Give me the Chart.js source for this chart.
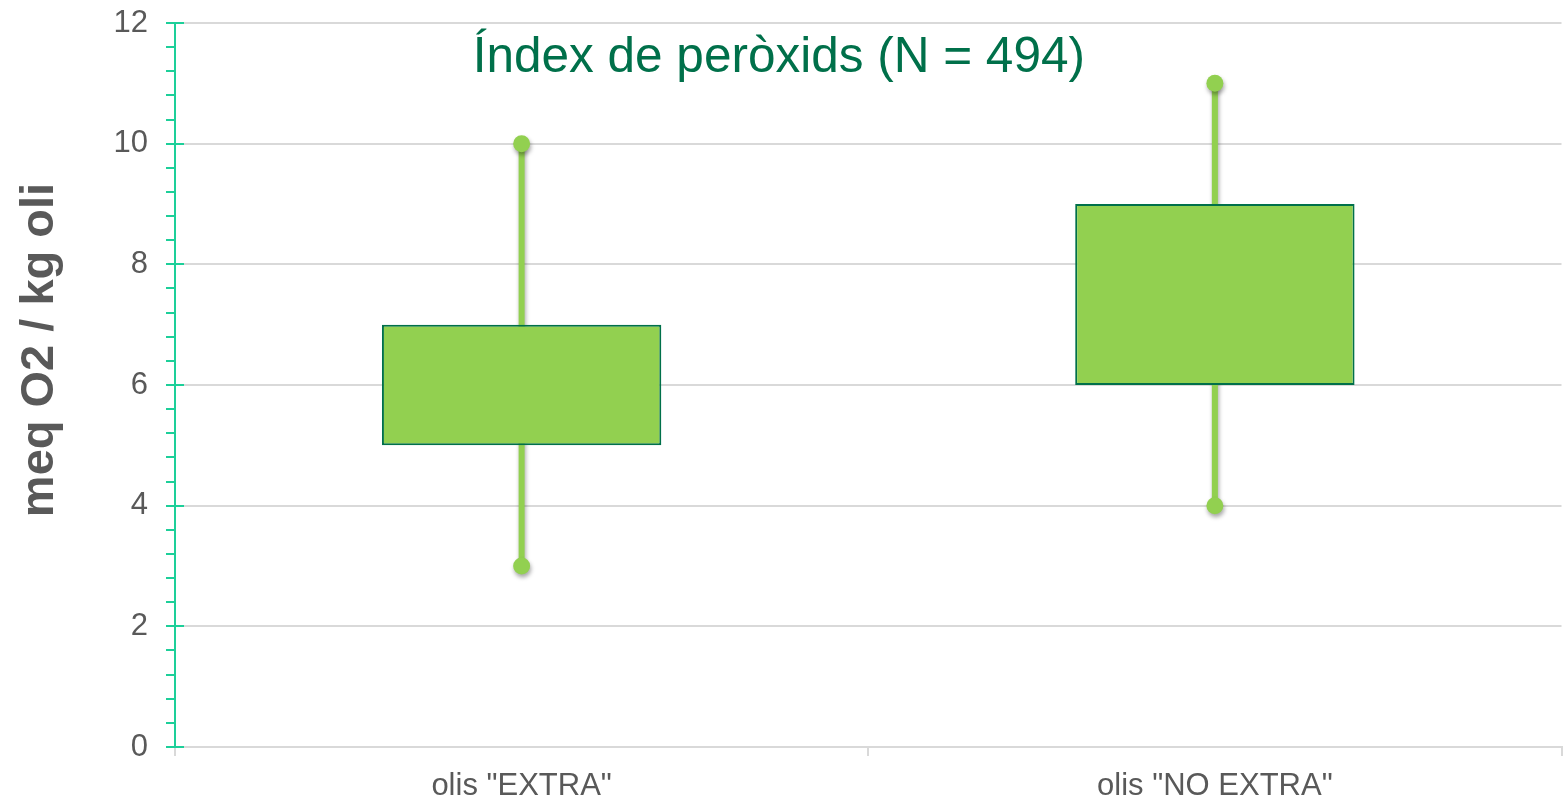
<!DOCTYPE html>
<html>
<head>
<meta charset="utf-8">
<script src="https://cdn.jsdelivr.net/npm/chart.js@4.4.1/dist/chart.umd.min.js"></script>
<style>
  html, body { margin:0; padding:0; background:#fff; overflow:hidden; }
  #wrap { width:1563px; height:799px; overflow:hidden; }
</style>
</head>
<body>
<div id="wrap"><canvas id="c" width="1570" height="799"></canvas></div>
<script>
const CATEGORIES = ['olis "EXTRA"', 'olis "NO EXTRA"'];
const Q1 = [5, 6];
const Q3 = [7, 9];
const WHISKER_MIN = [3, 4];
const WHISKER_MAX = [10, 11];
const TITLE = 'Índex de peròxids (N = 494)';
const Y_TITLE = 'meq O2 / kg oli';

const GREEN = '#92d050';
const DARK = '#00704a';
const AXIS_GREEN = '#1dcf99';
const GRID = '#d9d9d9';
const TXT = '#595959';
const FONT = "'Liberation Sans', Arial, sans-serif";

function isMajor(v){ return Math.abs(v/2 - Math.round(v/2)) < 1e-6; }

const whiskerSets = CATEGORIES.map((c,i)=>({
  type:'line',
  order: 2,
  data:[{x:c, y:WHISKER_MIN[i]}, {x:c, y:WHISKER_MAX[i]}],
  borderColor: GREEN, borderWidth: 6,
  pointRadius: 8.5, pointBackgroundColor: GREEN, pointBorderWidth: 0
}));

// soft drop shadow under the whiskers
const shadowPlugin = {
  id:'shadow',
  beforeDatasetDraw(chart, args){
    const ctx = chart.ctx;
    ctx.save();
    if(args.meta.type === 'line'){
      ctx.shadowColor = 'rgba(0,0,0,0.35)';
      ctx.shadowBlur = 4; ctx.shadowOffsetX = 1; ctx.shadowOffsetY = 3;
    }
  },
  afterDatasetDraw(chart){ chart.ctx.restore(); }
};

// titles + major tick marks crossing the axis
const extras = {
  id:'extras',
  afterDraw(chart){
    const ctx = chart.ctx, a = chart.chartArea, y = chart.scales.y;
    ctx.save();
    ctx.strokeStyle = AXIS_GREEN; ctx.lineWidth = 2;
    y.ticks.forEach(t=>{
      if(!isMajor(t.value)) return;
      const py = Math.round(y.getPixelForValue(t.value));
      ctx.beginPath(); ctx.moveTo(a.left, py); ctx.lineTo(a.left + 9, py); ctx.stroke();
    });
    ctx.fillStyle = DARK;
    ctx.font = '49.5px ' + FONT;
    ctx.textAlign = 'center'; ctx.textBaseline = 'middle';
    ctx.fillText(TITLE, a.left + (a.right - a.left) * 0.4355, a.top + 35);

    ctx.translate(40, (a.top + a.bottom) / 2 - 35);
    ctx.rotate(-Math.PI / 2);
    ctx.fillStyle = TXT;
    ctx.font = 'bold 47px ' + FONT;
    ctx.fillText(Y_TITLE, 0, 0);
    ctx.restore();
  }
};

new Chart(document.getElementById('c'), {
  type:'bar',
  data:{
    labels: CATEGORIES,
    datasets:[
      {
        type:'bar', order: 1,
        data: CATEGORIES.map((_,i)=>[Q1[i], Q3[i]]),
        backgroundColor: GREEN, borderColor: DARK, borderWidth: 2, borderSkipped: false,
        categoryPercentage: 1, barPercentage: 0.403
      },
      ...whiskerSets
    ]
  },
  options:{
    responsive:false, animation:false,
    layout:{ padding:{ top: 23, right: 0, left: 0, bottom: 0 } },
    plugins:{ legend:{ display:false }, tooltip:{ enabled:false } },
    scales:{
      x:{
        offset:true,
        grid:{ drawOnChartArea:false, color:GRID, tickLength:9, lineWidth:2, offset:true },
        border:{ color:GRID, width:2 },
        ticks:{ color:TXT, font:{ family:FONT, size:31 }, padding:12 },
        afterFit(s){ s.height = 52; s.paddingLeft = 0; s.paddingRight = 0; }
      },
      y:{
        min:0, max:12,
        ticks:{
          stepSize:0.4, autoSkip:false, color:TXT, font:{ family:FONT, size:31 }, padding:18,
          callback:(v)=> isMajor(v) ? String(Math.round(v)) : ''
        },
        grid:{
          color:(c)=> c.tick && isMajor(c.tick.value) ? GRID : 'rgba(0,0,0,0)',
          tickColor: AXIS_GREEN, tickLength:9, lineWidth:2
        },
        border:{ color:AXIS_GREEN, width:2 },
        afterFit(s){ s.width = 175; s.paddingTop = 0; s.paddingBottom = 0; }
      }
    }
  },
  plugins:[shadowPlugin, extras]
});
</script>
</body>
</html>
